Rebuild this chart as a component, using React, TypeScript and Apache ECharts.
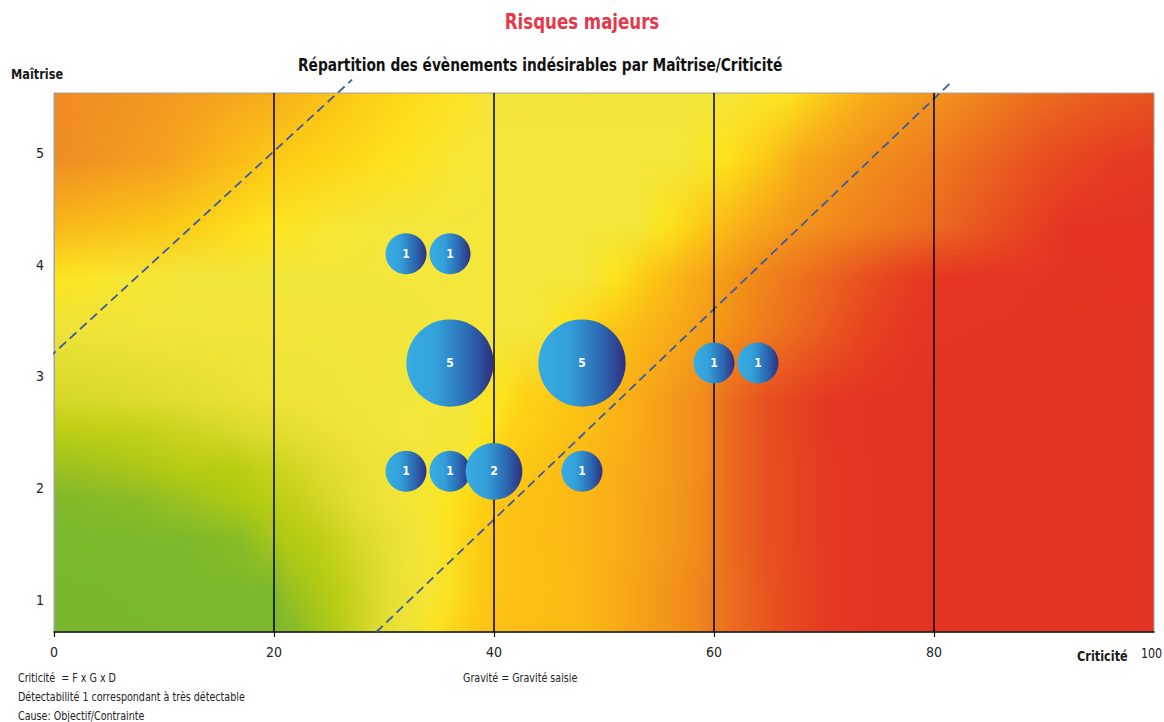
import { useEffect, useRef } from 'react';
import * as echarts from 'echarts';

// ---------- data ----------
const CRITICITE = [32, 36, 36, 48, 60, 64, 32, 36, 40, 48];
const MAITRISE = [4.1, 4.1, 3.12, 3.12, 3.12, 3.12, 2.15, 2.15, 2.15, 2.15];
const NB_EVENEMENTS = [1, 1, 5, 5, 1, 1, 1, 1, 2, 1];
const X_TICKS = [0, 20, 40, 60, 80, 100];
const Y_TICKS = [1, 2, 3, 4, 5];
const VERTICAL_LINES = [20, 40, 60, 80];
const LIMIT_LINE_1 = [[-0.45, 3.17], [27.1, 5.66]];
const LIMIT_LINE_2 = [[29.3, 0.71], [81.6, 5.64]];

// ---------- layout / style ----------
const W = 1164;
const H = 722;
const GRID_L = 54;
const GRID_R = 1154;
const GRID_T = 93;
const GRID_B = 632;
const Y_MIN = 0.71;
const Y_MAX = 5.54;
const FONT = "'Liberation Sans Narrow', 'Arial Narrow', 'DejaVu Sans Condensed', 'Liberation Sans', sans-serif";

type Stop = [number, string];
// background colour field: rows at fraction of plot height, stops along criticité (0..100)
const BG_ROWS: { at: number; stops: Stop[] }[] = [
  { at: 0, stops: [[0, '#f08a22'], [10, '#f3981f'], [19.4, '#f6ac1c'], [24, '#fabf16'], [31.5, '#fdd81a'], [37.5, '#fde428'], [40, '#f5e53a'], [60, '#f4e53a'], [63, '#f8e530'], [66.8, '#fde41e'], [70, '#fcc818'], [74, '#f8ac1a'], [78, '#f49c1c'], [82, '#f08e1e'], [88.5, '#ec701e'], [94, '#ea601f'], [100, '#e8521f']] },
  { at: 0.124, stops: [[0, '#f08c22'], [10, '#f4a01e'], [19.4, '#fcc814'], [25, '#fdd416'], [31.5, '#fde21e'], [36, '#f8e632'], [40, '#f4e63a'], [57, '#f4e63a'], [60.7, '#fde41c'], [64.7, '#fdc816'], [68, '#f6a81a'], [74, '#f18e1c'], [80, '#ee7a1e'], [84, '#eb681f'], [90, '#e84e20'], [96, '#e63c22'], [100, '#e63823']] },
  { at: 0.249, stops: [[0, '#f8b81a'], [10, '#fbc816'], [19.4, '#fde41e'], [25, '#f8e632'], [30, '#f4e63a'], [53, '#f4e63a'], [55.5, '#fde41c'], [59, '#fcc816'], [63, '#f8ac18'], [67, '#f3961a'], [73, '#ef821c'], [80, '#eb6a1e'], [86, '#e74e20'], [92, '#e63323'], [100, '#e63323']] },
  { at: 0.341, stops: [[0, '#fde41e'], [6, '#f8e630'], [12, '#f3e63a'], [48, '#f4e63a'], [51.1, '#fde41c'], [54, '#fcc814'], [58, '#f8ac18'], [62, '#f29418'], [66, '#ee7c1c'], [71.5, '#ea5e1f'], [76, '#e64420'], [80, '#e63623'], [100, '#e63323']] },
  { at: 0.44, stops: [[0, '#eee238'], [10, '#f2e43a'], [44, '#f4e63a'], [46.5, '#fde41c'], [50, '#fcc814'], [56, '#f8ac18'], [61, '#f29418'], [64.5, '#ee7c1c'], [69.5, '#ea5e1f'], [74, '#e64220'], [78, '#e63523'], [100, '#e53323']] },
  { at: 0.57, stops: [[0, '#d4d828'], [5, '#d8da2a'], [10, '#e0dc2e'], [20, '#eee238'], [30, '#f3e63a'], [37, '#f4e63a'], [40.5, '#fde41c'], [43, '#fdd016'], [47.8, '#fcc214'], [52, '#f9b016'], [56, '#f49a1a'], [59.5, '#f0881c'], [61, '#eb701e'], [64.8, '#e75020'], [70, '#e53823'], [75, '#e53323'], [100, '#e53323']] },
  { at: 0.625, stops: [[0, '#bdcf14'], [8, '#c4d118'], [14, '#d2d724'], [20, '#e2dd30'], [26, '#efe238'], [32, '#f4e63a'], [37.5, '#f5e538'], [39.5, '#fde41c'], [42, '#fdd016'], [47.8, '#fcc014'], [52, '#f9b016'], [56, '#f49a1a'], [59.5, '#f0881c'], [61, '#eb6e1e'], [65, '#e75020'], [70, '#e53823'], [75, '#e53323'], [100, '#e53323']] },
  { at: 0.699, stops: [[0, '#98c020'], [6, '#a6c41a'], [12, '#b8cc12'], [16.4, '#b6cc10'], [20, '#c8d31a'], [24, '#dcda2c'], [28, '#eae036'], [33, '#f3e53a'], [37, '#f8e52c'], [38.5, '#fde41c'], [40.5, '#fdd016'], [45, '#fcc014'], [50, '#f9b216'], [55, '#f5a01a'], [59.5, '#f0881c'], [61, '#eb6e1e'], [65, '#e75020'], [70, '#e53a22'], [75, '#e53323'], [100, '#e53323']] },
  { at: 0.755, stops: [[0, '#80b82c'], [8, '#8abd26'], [13, '#a0c41c'], [18, '#b4cc10'], [21.5, '#c2d016'], [24.7, '#d6d828'], [28, '#e8e032'], [31, '#f1e438'], [34.5, '#f8e62c'], [36, '#fde41c'], [38.7, '#fdd014'], [41, '#fcc414'], [47.8, '#fbb814'], [52, '#f8aa18'], [56, '#f39a1a'], [59.5, '#ef861c'], [61, '#eb6e1e'], [65, '#e75020'], [70, '#e53a22'], [75, '#e53323'], [100, '#e53323']] },
  { at: 0.829, stops: [[0, '#7ab82c'], [12, '#7cb82c'], [17, '#88bc26'], [19.5, '#a2c41c'], [21, '#b0ca12'], [24, '#bccf14'], [27, '#d2d724'], [30, '#e6de32'], [33, '#f2e438'], [35.5, '#fae428'], [37.5, '#fdd416'], [40, '#fcc414'], [47.8, '#fbb814'], [52, '#f8aa18'], [56, '#f39a1a'], [59.5, '#ef861c'], [61, '#eb6e1e'], [65, '#e75020'], [70, '#e53a22'], [75, '#e53323'], [100, '#e53323']] },
  { at: 0.922, stops: [[0, '#78b62c'], [20, '#7cb82c'], [21, '#94bf22'], [23.5, '#aac816'], [26, '#bccf14'], [28.5, '#d4d828'], [31, '#e8e034'], [34, '#f5e434'], [36, '#fbe222'], [38, '#fcd016'], [40, '#fcc414'], [47.8, '#fbba14'], [51.8, '#f7a818'], [56, '#f29418'], [58.5, '#ef861c'], [60, '#ed7a1c'], [62.5, '#ea661e'], [65.5, '#e7501f'], [70, '#e53a22'], [75, '#e53323'], [100, '#e53323']] },
  { at: 1, stops: [[0, '#78b62c'], [20, '#7ab72c'], [22, '#88bb27'], [24.7, '#a8c61a'], [27.3, '#c6d21c'], [29.5, '#dedb2e'], [32, '#eee23a'], [34.5, '#fbe420'], [36.7, '#fdd216'], [39, '#fcc414'], [42, '#fcbc14'], [47.8, '#fbba14'], [51.8, '#f7a818'], [56, '#f29418'], [58.5, '#ef861c'], [60, '#ed7a1c'], [62.5, '#ea661e'], [65.5, '#e7501f'], [70, '#e53a22'], [75, '#e53323'], [100, '#e53323']] },
];

function hexRgb(h: string): number[] {
  const n = parseInt(h.slice(1), 16);
  return [(n >> 16) & 255, (n >> 8) & 255, n & 255];
}
function sampleRow(stops: Stop[], x: number): number[] {
  for (let i = 0; i < stops.length - 1; i++) {
    const [x0, c0] = stops[i];
    const [x1, c1] = stops[i + 1];
    if (x >= x0 && x <= x1) {
      const t = x1 === x0 ? 0 : (x - x0) / (x1 - x0);
      const a = hexRgb(c0);
      const b = hexRgb(c1);
      return a.map((v, k) => v + (b[k] - v) * t);
    }
  }
  return hexRgb(stops[stops.length - 1][1]);
}
function buildBackground(): any[] {
  const els: any[] = [];
  const gh = GRID_B - GRID_T;
  const gw = GRID_R - GRID_L;
  const stripH = 3;
  const n = Math.ceil(gh / stripH);
  for (let s = 0; s < n; s++) {
    const y0 = GRID_T + s * stripH;
    const f = Math.min(1, (s + 0.5) * stripH / gh);
    let a = 0;
    while (a < BG_ROWS.length - 2 && BG_ROWS[a + 1].at < f) a++;
    const ra = BG_ROWS[a];
    const rb = BG_ROWS[a + 1];
    const t = (f - ra.at) / (rb.at - ra.at);
    const colorStops: any[] = [];
    for (let x = 0; x <= 100; x += 1) {
      const ca = sampleRow(ra.stops, x);
      const cb = sampleRow(rb.stops, x);
      const c = ca.map((v, k) => Math.round(v + (cb[k] - v) * t));
      colorStops.push({ offset: x / 100, color: `rgb(${c[0]},${c[1]},${c[2]})` });
    }
    els.push({
      type: 'rect',
      silent: true,
      z: -10,
      shape: { x: GRID_L, y: y0, width: gw, height: Math.min(stripH + 0.6, GRID_B - y0) },
      style: { fill: { type: 'linear', x: 0, y: 0, x2: 1, y2: 0, colorStops } },
    });
  }
  return els;
}

const textEl = (text: string, x: number, y: number, size: number, bold: boolean, sx: number, color = '#1a1a1a', align = 'left') => ({
  type: 'text',
  x,
  y,
  scaleX: sx,
  silent: true,
  z: 10,
  style: { text, fontSize: size, fontWeight: bold ? 'bold' : 'normal', fontFamily: FONT, fill: color, align, verticalAlign: 'middle' },
});

export default function App() {
  const ref = useRef<HTMLDivElement>(null);
  useEffect(() => {
    if (!ref.current) return;
    const chart = echarts.init(ref.current, undefined, { renderer: 'svg' });
    const bubbleFill = new echarts.graphic.LinearGradient(0, 0, 1, 0, [
      { offset: 0, color: '#38ace3' },
      { offset: 0.35, color: '#33a0da' },
      { offset: 0.7, color: '#2c6cb4' },
      { offset: 1, color: '#2e2f80' },
    ]);
    const dashed = { color: '#3a5aa6', width: 1.8, type: [9, 5] as any };
    const maxTick = X_TICKS[X_TICKS.length - 1];
    const option: any = {
      animation: false,
      backgroundColor: '#ffffff',
      grid: {
        left: GRID_L, right: W - GRID_R, top: GRID_T, bottom: H - GRID_B,
        outerBoundsMode: 'none', containLabel: false,
        show: true, borderColor: '#a3a3a3', borderWidth: 1, backgroundColor: 'transparent',
      },
      xAxis: {
        type: 'value', min: X_TICKS[0], max: maxTick, interval: 20,
        axisLine: { onZero: false, lineStyle: { color: '#111', width: 1.5 } },
        axisTick: { show: true, length: 5, lineStyle: { color: '#111', width: 1.2 } },
        axisLabel: { fontSize: 14, color: '#222', margin: 13, fontFamily: FONT, showMaxLabel: false },
        splitLine: { show: false },
      },
      yAxis: {
        type: 'value', min: Y_MIN, max: Y_MAX,
        axisLine: { show: true, onZero: false, lineStyle: { color: '#a3a3a3', width: 1 } },
        axisTick: { show: false },
        axisLabel: { customValues: Y_TICKS, fontSize: 14, color: '#222', margin: 10, fontFamily: FONT },
        splitLine: { show: false },
      },
      graphic: [
        ...buildBackground(),
        textEl('Risques majeurs', 582, 22, 21, true, 0.88, '#e5384b', 'center'),
        textEl('Répartition des évènements indésirables par Maîtrise/Criticité', 298, 65, 17, true, 0.9, '#111'),
        textEl('Maîtrise', 11, 74, 14, true, 0.9),
        textEl('Criticité', 1077, 656, 14, true, 0.9),
        textEl(String(maxTick), 1151.5, 653, 14, false, 0.88, '#222', 'center'),
        textEl('Criticité  = F x G x D', 18, 678, 12, false, 0.885, '#222'),
        textEl('Détectabilité 1 correspondant à très détectable', 18, 697, 12, false, 0.885, '#222'),
        textEl('Cause: Objectif/Contrainte', 18, 716, 12, false, 0.885, '#222'),
        textEl('Gravité = Gravité saisie', 463, 678, 12, false, 0.885, '#222'),
      ],
      series: [
        {
          type: 'line', data: LIMIT_LINE_1, clip: false, symbol: 'none', silent: true, z: 3,
          lineStyle: dashed,
          markLine: {
            silent: true, symbol: 'none', label: { show: false },
            lineStyle: { color: '#000', width: 1.5, type: 'solid' },
            data: VERTICAL_LINES.map((v) => ({ xAxis: v })),
          },
        },
        { type: 'line', data: LIMIT_LINE_2, clip: false, symbol: 'none', silent: true, z: 3, lineStyle: dashed },
        {
          type: 'scatter', z: 5,
          data: CRITICITE.map((x, i) => [x, MAITRISE[i], NB_EVENEMENTS[i]]),
          symbolSize: (v: number[]) => 41 * Math.pow(v[2], 0.47),
          itemStyle: { color: bubbleFill, opacity: 1 },
          label: { show: true, formatter: (p: any) => String(p.value[2]), color: '#fff', fontWeight: 'bold', fontSize: 12, fontFamily: FONT },
        },
      ],
    };
    chart.setOption(option);
    return () => chart.dispose();
  }, []);
  return <div ref={ref} style={{ position: 'fixed', left: 0, top: 0, width: W, height: H }} />;
}
